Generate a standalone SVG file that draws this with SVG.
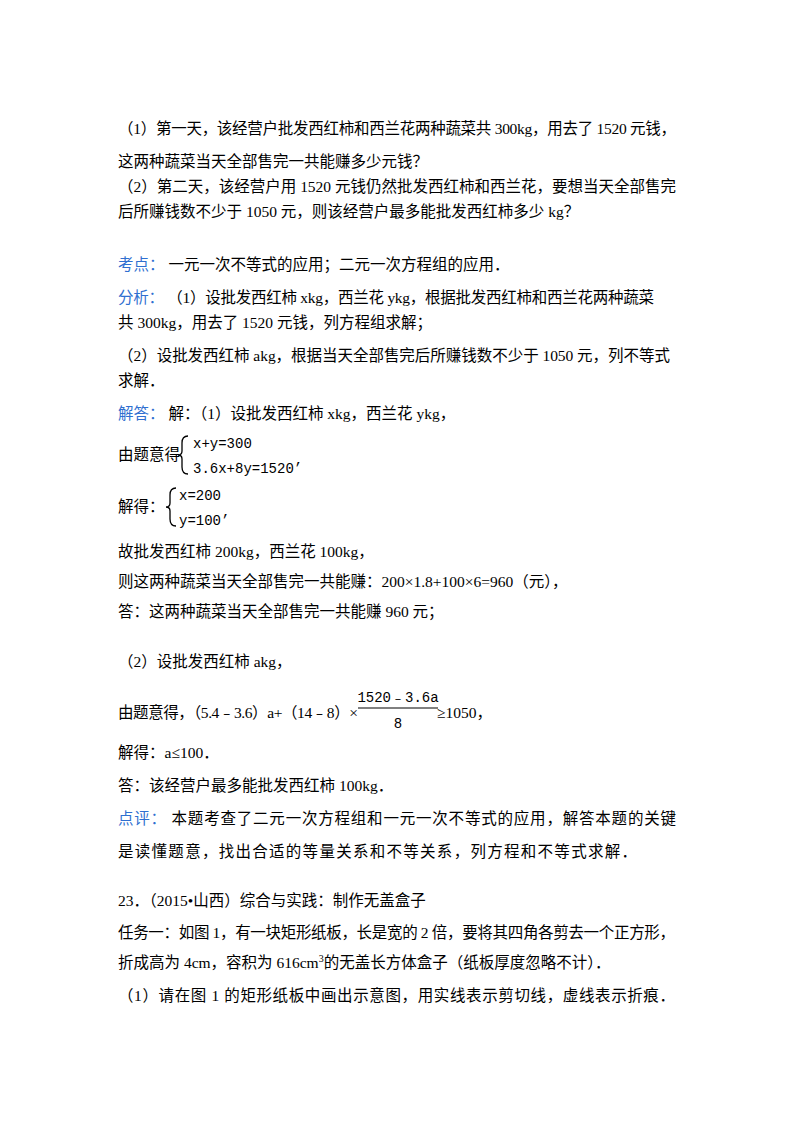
<svg xmlns="http://www.w3.org/2000/svg" width="800" height="1132" viewBox="0 0 800 1132">
<style>
text{font-family:"Liberation Serif","Noto Sans CJK SC",serif;font-size:15.5px;fill:#000}
.k{fill:#2f6fd0}
.m{font-family:"Liberation Mono","Noto Sans CJK SC",monospace;font-size:14px}
</style>
<rect width="800" height="1132" fill="#fff"/>
<g id="text">
<text x="118" y="134" textLength="558" lengthAdjust="spacing">（1）第一天，该经营户批发西红柿和西兰花两种蔬菜共 300kg，用去了 1520 元钱，</text>
<text x="118" y="167">这两种蔬菜当天全部售完一共能赚多少元钱？</text>
<text x="118" y="192" textLength="558" lengthAdjust="spacing">（2）第二天，该经营户用 1520 元钱仍然批发西红柿和西兰花，要想当天全部售完</text>
<text x="118" y="217">后所赚钱数不少于 1050 元，则该经营户最多能批发西红柿多少 kg？</text>
<text x="118" y="270"><tspan class="k">考点：</tspan>  一元一次不等式的应用；二元一次方程组的应用．</text>
<text x="118" y="303" textLength="536" lengthAdjust="spacing"><tspan class="k">分析：</tspan>  （1）设批发西红柿 xkg，西兰花 ykg，根据批发西红柿和西兰花两种蔬菜</text>
<text x="118" y="328">共 300kg，用去了 1520 元钱，列方程组求解；</text>
<text x="118" y="361" textLength="552" lengthAdjust="spacing">（2）设批发西红柿 akg，根据当天全部售完后所赚钱数不少于 1050 元，列不等式</text>
<text x="118" y="386">求解．</text>
<text x="118" y="419"><tspan class="k">解答：</tspan>  解：（1）设批发西红柿 xkg，西兰花 ykg，</text>
<text x="118" y="460">由题意得</text>
<path d="M188 436 Q182 436 182 443 L182 451 Q182 455 178 455 Q182 455 182 459 L182 467 Q182 474 188 474" fill="none" stroke="#000" stroke-width="1.3"/>
<text class="m" x="193" y="448">x+y=300</text>
<text class="m" x="193" y="473">3.6x+8y=1520’</text>
<text x="118" y="512">解得：</text>
<path d="M176 488 Q170 488 170 495 L170 503 Q170 507 166 507 Q170 507 170 511 L170 519 Q170 526 176 526" fill="none" stroke="#000" stroke-width="1.3"/>
<text class="m" x="179" y="500">x=200</text>
<text class="m" x="179" y="525">y=100’</text>
<text x="118" y="557">故批发西红柿 200kg，西兰花 100kg，</text>
<text x="118" y="587">则这两种蔬菜当天全部售完一共能赚：200×1.8+100×6=960（元），</text>
<text x="118" y="617">答：这两种蔬菜当天全部售完一共能赚 960 元；</text>
<text x="118" y="667">（2）设批发西红柿 akg，</text>
<text x="118" y="718" textLength="240" lengthAdjust="spacing">由题意得，（5.4﹣3.6）a+（14﹣8）×</text>
<text class="m" x="398" y="702" text-anchor="middle">1520﹣3.6a</text>
<line x1="358" y1="708" x2="438" y2="708" stroke="#000" stroke-width="1"/>
<text class="m" x="398" y="728" text-anchor="middle">8</text>
<text x="437" y="718">≥1050，</text>
<text x="118" y="758">解得：a≤100．</text>
<text x="118" y="791">答：该经营户最多能批发西红柿 100kg．</text>
<text x="118" y="824" textLength="558" lengthAdjust="spacing"><tspan class="k">点评：</tspan>  本题考查了二元一次方程组和一元一次不等式的应用，解答本题的关键</text>
<text x="118" y="857" textLength="519" lengthAdjust="spacing">是读懂题意，找出合适的等量关系和不等关系，列方程和不等式求解．</text>
<text x="118" y="906">23．（2015•山西）综合与实践：制作无盖盒子</text>
<text x="118" y="938" textLength="557" lengthAdjust="spacing">任务一：如图 1，有一块矩形纸板，长是宽的 2 倍，要将其四角各剪去一个正方形，</text>
<text x="118" y="968">折成高为 4cm，容积为 616cm<tspan font-size="10" dy="-6">3</tspan><tspan dy="6">的无盖长方体盒子（纸板厚度忽略不计）．</tspan></text>
<text x="118" y="1001" textLength="557" lengthAdjust="spacing">（1）请在图 1 的矩形纸板中画出示意图，用实线表示剪切线，虚线表示折痕．</text>
</g>
</svg>
